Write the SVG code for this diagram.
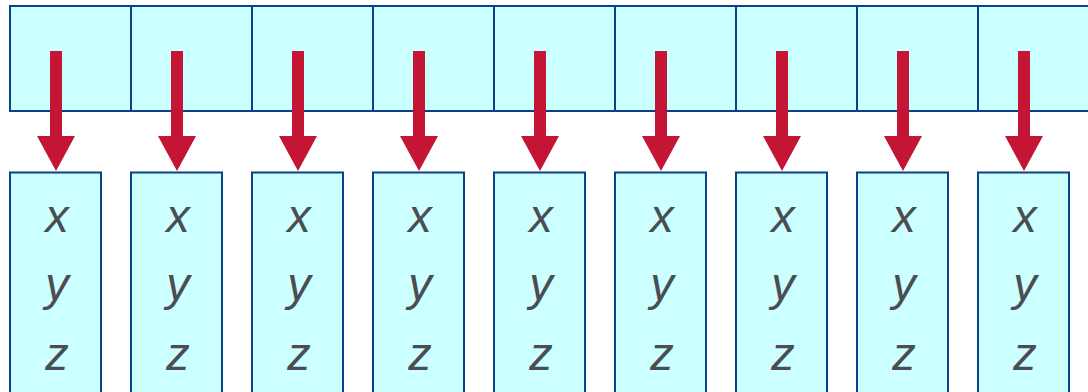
<svg xmlns="http://www.w3.org/2000/svg" width="1088" height="392" viewBox="0 0 1088 392">
  <style>
    .cell { fill: #ccffff; stroke: #0b4187; stroke-width: 2; }
    .arrow { fill: #c41535; }
    .lbl { font-family: "Liberation Sans", Arial, sans-serif; font-style: italic; font-size: 47px; fill: #4a4d52; text-anchor: middle; }
  </style>
  <defs>
    <!-- thick block arrow, tip at origin -->
    <path id="arr" d="M -6 -120 H 6 V -35 H 19 L 0 0 L -19 -35 H -6 Z"/>
    <!-- tall record box with its three fields -->
    <g id="rec">
      <rect class="cell" x="0" y="172.5" width="91" height="230"/>
      <text class="lbl" x="47" y="232">x</text>
      <text class="lbl" x="47" y="300">y</text>
      <text class="lbl" x="47" y="370">z</text>
    </g>
  </defs>

  <!-- source array -->
  <g id="array">
    <rect class="cell" x="10" y="6" width="121" height="105"/>
    <rect class="cell" x="131" y="6" width="121" height="105"/>
    <rect class="cell" x="252" y="6" width="121" height="105"/>
    <rect class="cell" x="373" y="6" width="121" height="105"/>
    <rect class="cell" x="494" y="6" width="121" height="105"/>
    <rect class="cell" x="615" y="6" width="121" height="105"/>
    <rect class="cell" x="736" y="6" width="121" height="105"/>
    <rect class="cell" x="857" y="6" width="121" height="105"/>
    <rect class="cell" x="978" y="6" width="121" height="105"/>
  </g>

  <!-- records -->
  <g id="rec0"><use href="#rec" x="10"/></g>
  <g id="rec1"><use href="#rec" x="131"/></g>
  <g id="rec2"><use href="#rec" x="252"/></g>
  <g id="rec3"><use href="#rec" x="373"/></g>
  <g id="rec4"><use href="#rec" x="494"/></g>
  <g id="rec5"><use href="#rec" x="615"/></g>
  <g id="rec6"><use href="#rec" x="736"/></g>
  <g id="rec7"><use href="#rec" x="857"/></g>
  <g id="rec8"><use href="#rec" x="978"/></g>

  <!-- pointers from array cells to records -->
  <g id="connectors" class="arrow">
    <use href="#arr" x="56" y="171"/>
    <use href="#arr" x="177" y="171"/>
    <use href="#arr" x="298" y="171"/>
    <use href="#arr" x="419" y="171"/>
    <use href="#arr" x="540" y="171"/>
    <use href="#arr" x="661" y="171"/>
    <use href="#arr" x="782" y="171"/>
    <use href="#arr" x="903" y="171"/>
    <use href="#arr" x="1024" y="171"/>
  </g>
</svg>
